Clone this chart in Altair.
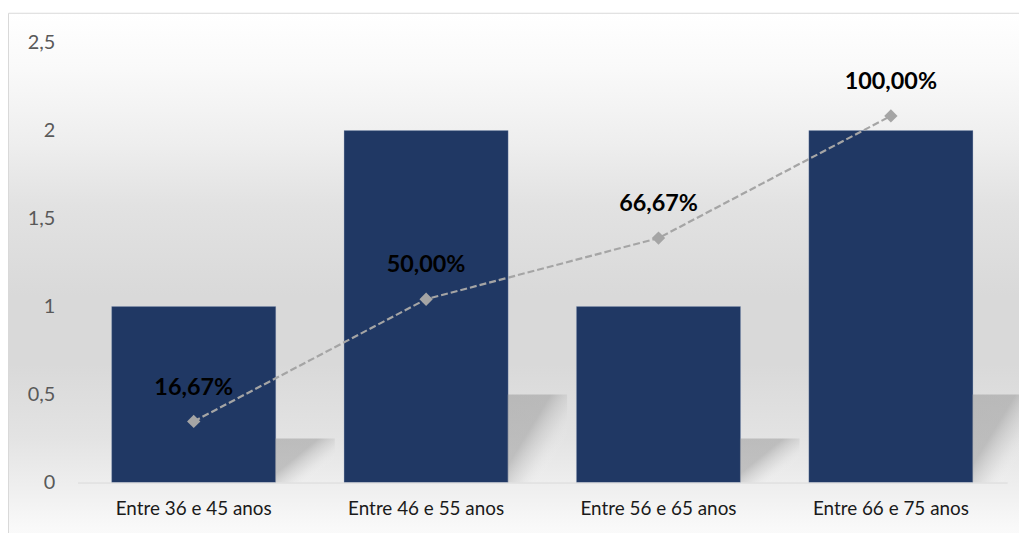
import altair as alt
import pandas as pd

categories = ["Entre 36 e 45 anos", "Entre 46 e 55 anos", "Entre 56 e 65 anos", "Entre 66 e 75 anos"]
counts = [1, 2, 1, 2]
cum_pct = [0.1667, 0.5000, 0.6667, 1.0000]

df = pd.DataFrame({"cat": categories, "count": counts, "pct": cum_pct})
one = pd.DataFrame({"a": [0]})

W, H = 936, 443
FONT = "Lato"

xenc = alt.X("cat:N", sort=categories, title=None,
             scale=alt.Scale(paddingInner=0.294, paddingOuter=0.147),
             axis=alt.Axis(labelAngle=0, labelFontSize=19, labelColor="#1a1a1a", labelFont=FONT,
                           labelPadding=17, ticks=False, domainColor="#d9d9d9", domainWidth=1, zindex=2))

bg_grad = alt.LinearGradient(
    gradient="linear", x1=0, x2=0, y1=0, y2=1,
    stops=[
        alt.GradientStop(offset=0.0, color="#ffffff"),
        alt.GradientStop(offset=0.1, color="#f9f9f9"),
        alt.GradientStop(offset=0.23, color="#eeeeee"),
        alt.GradientStop(offset=0.34, color="#e2e2e2"),
        alt.GradientStop(offset=0.5, color="#d9d9d9"),
        alt.GradientStop(offset=0.62, color="#d9d9d9"),
        alt.GradientStop(offset=0.75, color="#e3e3e3"),
        alt.GradientStop(offset=0.84, color="#efefef"),
        alt.GradientStop(offset=0.91, color="#f9f9f9"),
        alt.GradientStop(offset=1.0, color="#ffffff"),
    ])

bg = alt.Chart(one).mark_rect(fill=bg_grad, stroke="#d9d9d9", strokeWidth=1).encode(
    x=alt.value(-69.5), x2=alt.value(980), y=alt.value(-29.5), y2=alt.value(540)
)

shadow_grad = alt.LinearGradient(
    gradient="linear", x1=0, x2=1, y1=0.1, y2=1,
    stops=[
        alt.GradientStop(offset=0.0, color="rgba(140,140,140,0.45)"),
        alt.GradientStop(offset=0.35, color="rgba(150,150,150,0.5)"),
        alt.GradientStop(offset=0.55, color="rgba(190,190,190,0.25)"),
        alt.GradientStop(offset=0.75, color="rgba(255,255,255,0)"),
        alt.GradientStop(offset=1.0, color="rgba(255,255,255,0)"),
    ])

yscale = alt.Scale(domain=[0, 2.5])
yaxis = alt.Axis(values=[0, 0.5, 1, 1.5, 2, 2.5],
                 labelExpr="replace(format(datum.value, '~g'), '.', ',')",
                 labelFontSize=20, labelColor="#595959", labelFont=FONT, labelPadding=23,
                 ticks=False, domain=False, grid=False, zindex=2, title=None)

bars = alt.Chart(df).mark_bar(color="#203864", stroke="#8ea0c0", strokeWidth=0.5, strokeOpacity=0.6).encode(
    x=xenc,
    y=alt.Y("count:Q", scale=yscale, title=None, axis=yaxis),
)

shadows = alt.Chart(df).transform_calculate(sh="datum.count * 0.25").mark_bar(
    size=60, xOffset=112, fill=shadow_grad
).encode(
    x=xenc,
    y=alt.Y("sh:Q", scale=yscale, title=None, axis=yaxis),
)

count_layer = alt.layer(bars, shadows)

pscale = alt.Scale(domain=[0, 1.2])
line = alt.Chart(df).mark_line(color="#a5a5a5", strokeWidth=2.2, strokeDash=[7, 3]).encode(
    x=xenc, y=alt.Y("pct:Q", scale=pscale, axis=None)
)
pts = alt.Chart(df).mark_point(shape="diamond", filled=True, color="#a5a5a5", size=180, opacity=1).encode(
    x=xenc, y=alt.Y("pct:Q", scale=pscale, axis=None)
)
labels = alt.Chart(df).transform_calculate(
    lab="replace(format(datum.pct * 100, '.2f'), '.', ',') + '%'"
).mark_text(font=FONT, fontSize=23.5, fontWeight="bold", color="#000000", dy=-34, baseline="middle").encode(
    x=xenc, y=alt.Y("pct:Q", scale=pscale, axis=None), text="lab:N"
)
pct_layer = alt.layer(line, pts, labels)

chart = alt.layer(bg, count_layer, pct_layer).resolve_scale(y="independent").properties(
    width=W, height=H,
    autosize=alt.AutoSizeParams(type="none"),
    padding={"left": 70, "top": 33, "right": 12, "bottom": 49},
).configure_view(stroke=None).configure(background="#ffffff")

chart.save("out.html", embed_options={"renderer": "svg", "actions": False})
